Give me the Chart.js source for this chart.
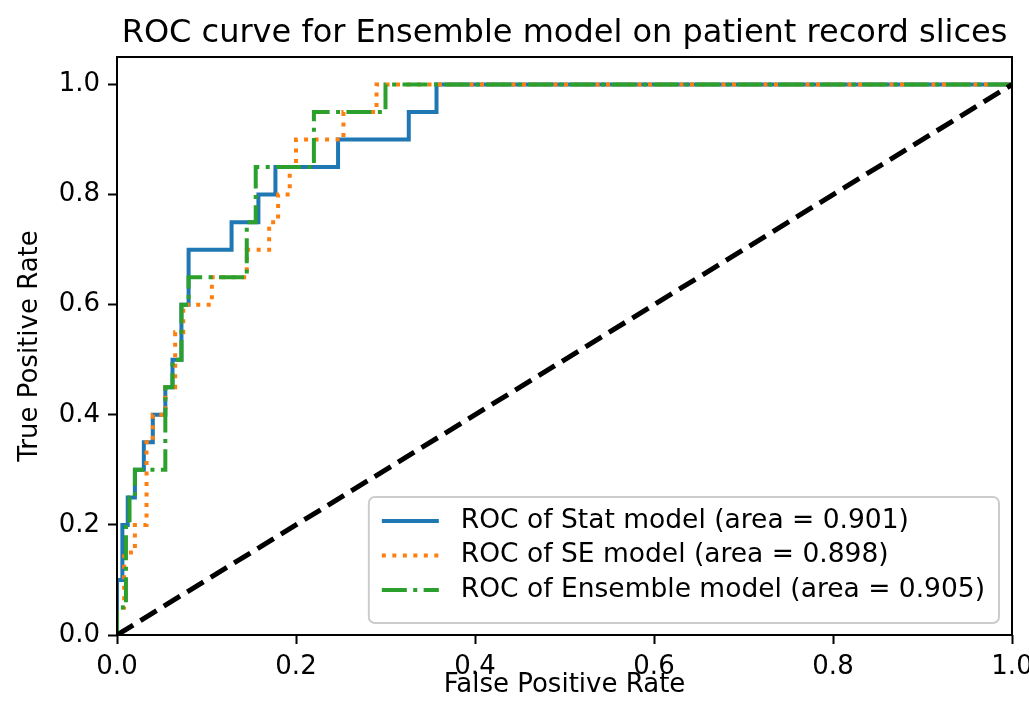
<!DOCTYPE html>
<html>
<head>
<meta charset="utf-8">
<script src="https://cdn.jsdelivr.net/npm/chart.js@4/dist/chart.umd.min.js"></script>
<style>
  body { margin: 0; background: #fff; }
  #roc { display: block; }
</style>
</head>
<body>
<canvas id="roc" width="1029" height="719"></canvas>
<script>
// ROC curve corner points
var statFpr = [0, 0, 0.006, 0.006, 0.012, 0.012, 0.02, 0.02, 0.03, 0.03, 0.04, 0.04, 0.054, 0.054, 0.062, 0.062, 0.072, 0.072, 0.08, 0.08, 0.128, 0.128, 0.158, 0.158, 0.177, 0.177, 0.247, 0.247, 0.326, 0.326, 0.357, 0.357, 1.0]
var statTpr = [0, 0.1, 0.1, 0.2, 0.2, 0.25, 0.25, 0.3, 0.3, 0.35, 0.35, 0.4, 0.4, 0.45, 0.45, 0.5, 0.5, 0.6, 0.6, 0.7, 0.7, 0.75, 0.75, 0.8, 0.8, 0.85, 0.85, 0.9, 0.9, 0.95, 0.95, 1.0, 1.0]

var seFpr = [0, 0, 0.008, 0.008, 0.02, 0.02, 0.033, 0.033, 0.04, 0.04, 0.054, 0.054, 0.065, 0.065, 0.074, 0.074, 0.106, 0.106, 0.145, 0.145, 0.17, 0.17, 0.18, 0.18, 0.193, 0.193, 0.2, 0.2, 0.253, 0.253, 0.29, 0.29, 1.0]
var seTpr = [0, 0.05, 0.05, 0.15, 0.15, 0.2, 0.2, 0.35, 0.35, 0.4, 0.4, 0.45, 0.45, 0.55, 0.55, 0.6, 0.6, 0.65, 0.65, 0.7, 0.7, 0.75, 0.75, 0.8, 0.8, 0.85, 0.85, 0.9, 0.9, 0.95, 0.95, 1.0, 1.0]

var ensFpr = [0, 0, 0.01, 0.01, 0.014, 0.014, 0.02, 0.02, 0.054, 0.054, 0.062, 0.062, 0.072, 0.072, 0.08, 0.08, 0.145, 0.145, 0.155, 0.155, 0.22, 0.22, 0.30, 0.30, 1.0]
var ensTpr = [0, 0.05, 0.05, 0.2, 0.2, 0.25, 0.25, 0.3, 0.3, 0.45, 0.45, 0.5, 0.5, 0.6, 0.6, 0.65, 0.65, 0.75, 0.75, 0.85, 0.85, 0.95, 0.95, 1.0, 1.0]

var chanceX = [0, 1]
var chanceY = [0, 1]

var modelNames = ["Stat", "SE", "Ensemble"]
var modelAreas = [0.901, 0.898, 0.905]

var xTicks = [0, 0.2, 0.4, 0.6, 0.8, 1.0]
var yTicks = [0, 0.2, 0.4, 0.6, 0.8, 1.0]

function pairs(xs, ys) {
    return xs.map(function (x, i) { return {x: x, y: ys[i]} })
}

function rocLabel(i) {
    return "ROC of " + modelNames[i] + " model (area = " + modelAreas[i].toFixed(3) + ")"
}

Chart.defaults.font.family = "'DejaVu Sans', sans-serif"
Chart.defaults.color = "#000"

// spines on all four sides + matplotlib style legend in the lower right
var frameAndLegend = {
    id: 'frameAndLegend',
    afterDatasetsDraw: function (chart) {
        var ctx = chart.ctx
        var a = chart.chartArea
        ctx.save()
        ctx.strokeStyle = "#000"
        ctx.lineWidth = 2
        ctx.strokeRect(a.left, a.top, a.right - a.left, a.bottom - a.top)

        var sets = chart.data.datasets.filter(function (d) { return d.inLegend })
        sets.sort(function (p, q) { return p.legendIndex - q.legendIndex })
        var fontSize = 26.5
        ctx.font = fontSize + "px 'DejaVu Sans'"
        var textW = 0
        sets.forEach(function (d) { textW = Math.max(textW, ctx.measureText(d.label).width) })
        var padL = 13, padR = 14, handle = 57, gap = 22, rowH = 34.5
        var w = padL + handle + gap + textW + padR
        var h = 126
        var right = a.right - 13, bottom = a.bottom - 12
        var left = right - w, top = bottom - h

        ctx.beginPath()
        ctx.roundRect(left, top, w, h, 6)
        ctx.fillStyle = "rgba(255,255,255,0.8)"
        ctx.fill()
        ctx.strokeStyle = "#cccccc"
        ctx.lineWidth = 2
        ctx.stroke()

        sets.forEach(function (d, i) {
            var y = top + 24 + rowH * i
            ctx.beginPath()
            ctx.setLineDash(d.borderDash || [])
            ctx.strokeStyle = d.borderColor
            ctx.lineWidth = d.borderWidth
            ctx.moveTo(left + padL, y)
            ctx.lineTo(left + padL + handle, y)
            ctx.stroke()
            ctx.setLineDash([])
            ctx.fillStyle = "#000"
            ctx.textBaseline = "middle"
            ctx.textAlign = "left"
            ctx.fillText(d.label, left + padL + handle + gap, y)
        })
        ctx.restore()
    }
}

var ctx = document.getElementById("roc")
var rocChart = new Chart(ctx, {
    type: 'line',
    data: {
        datasets: [{
            label: rocLabel(0),
            data: pairs(statFpr, statTpr),
            borderColor: '#1f77b4',
            borderWidth: 4,
            order: 4,
            inLegend: true,
            legendIndex: 0
        }, {
            label: rocLabel(1),
            data: pairs(seFpr, seTpr),
            borderColor: '#ff7f0e',
            borderWidth: 4,
            borderDash: [4, 6.5],
            order: 3,
            inLegend: true,
            legendIndex: 1
        }, {
            label: rocLabel(2),
            data: pairs(ensFpr, ensTpr),
            borderColor: '#2ca02c',
            borderWidth: 4,
            borderDash: [25, 6.4, 4, 6.4],
            order: 2,
            inLegend: true,
            legendIndex: 2
        }, {
            label: 'chance',
            data: pairs(chanceX, chanceY),
            borderColor: '#000',
            borderWidth: 5,
            borderDash: [19, 8.5],
            order: 1,
            inLegend: false
        }]
    },
    options: {
        responsive: false,
        animation: false,
        devicePixelRatio: 1,
        elements: {
            point: { radius: 0 },
            line: { tension: 0, borderCapStyle: 'butt', borderJoinStyle: 'miter' }
        },
        layout: { padding: { left: 0, right: 17, top: 0, bottom: 0 } },
        scales: {
            x: {
                type: 'linear',
                min: 0,
                max: 1,
                afterBuildTicks: function (s) { s.ticks = xTicks.map(function (v) { return {value: v} }) },
                afterFit: function (s) { s.height = 84; s.paddingLeft = 0; s.paddingRight = 0 },
                border: { display: false },
                grid: { drawOnChartArea: false, drawTicks: true, tickLength: 9, tickWidth: 2, tickColor: '#000' },
                ticks: {
                    padding: 8,
                    maxRotation: 0,
                    autoSkip: false,
                    font: { size: 26 },
                    callback: function (v) { return Number(v).toFixed(1) }
                },
                title: { display: true, text: 'False Positive Rate', font: { size: 26 }, padding: { top: 0, bottom: 18 } }
            },
            y: {
                type: 'linear',
                min: 0,
                max: 1.05,
                afterBuildTicks: function (s) { s.ticks = yTicks.map(function (v) { return {value: v} }) },
                afterFit: function (s) { s.width = 117; s.paddingTop = 0; s.paddingBottom = 0 },
                border: { display: false },
                grid: { drawOnChartArea: false, drawTicks: true, tickLength: 9, tickWidth: 2, tickColor: '#000' },
                ticks: {
                    padding: 8,
                    autoSkip: false,
                    font: { size: 26 },
                    callback: function (v) { return Number(v).toFixed(1) }
                },
                title: { display: true, text: 'True Positive Rate', font: { size: 26 }, padding: { top: 15, bottom: 0 } }
            }
        },
        plugins: {
            legend: { display: false },
            tooltip: { enabled: false },
            title: {
                display: true,
                fullSize: false,
                text: 'ROC curve for Ensemble model on patient record slices',
                font: { size: 32, weight: 'normal' },
                color: '#000',
                padding: { top: 14, bottom: 4.6 }
            }
        }
    },
    plugins: [frameAndLegend]
})
</script>
</body>
</html>
